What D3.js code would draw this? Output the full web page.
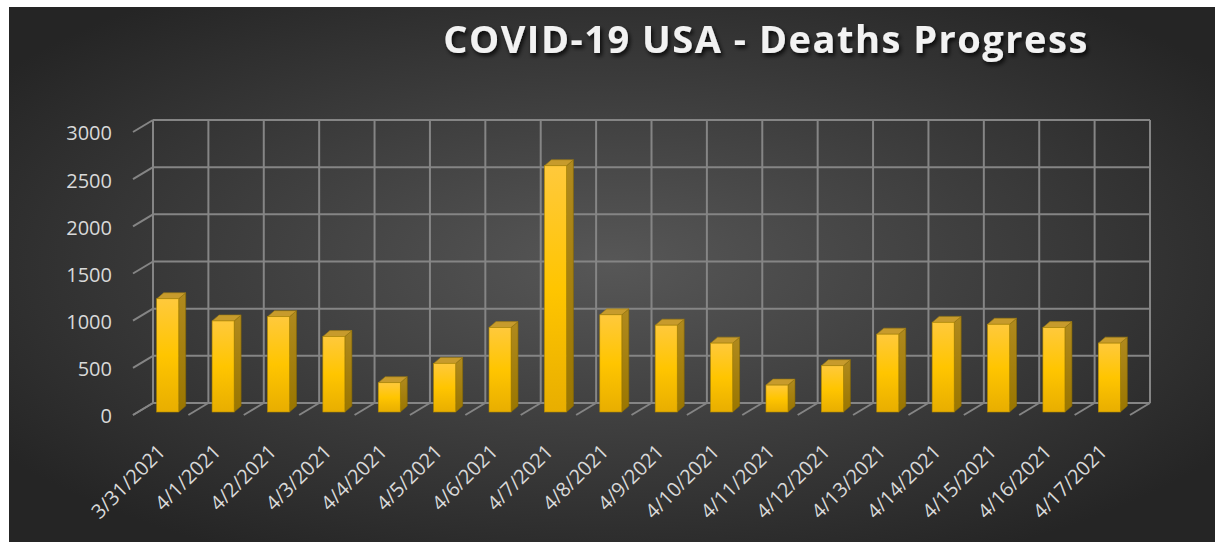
<!DOCTYPE html>
<html>
<head>
<meta charset="utf-8">
<script src="https://cdn.jsdelivr.net/npm/d3@7"></script>
<style>
  body { margin: 0; background: #fff; }
  svg { display: block; }
</style>
</head>
<body>
<div id="chart"></div>
<script>
// chart data
const dates = ["3/31/2021", "4/1/2021", "4/2/2021", "4/3/2021", "4/4/2021", "4/5/2021",
  "4/6/2021", "4/7/2021", "4/8/2021", "4/9/2021", "4/10/2021", "4/11/2021",
  "4/12/2021", "4/13/2021", "4/14/2021", "4/15/2021", "4/16/2021", "4/17/2021"];
const deaths = [1200, 965, 1010, 800, 310, 515, 895, 2610, 1030, 920, 730, 285,
  490, 825, 950, 930, 895, 730];
const yTicks = [0, 500, 1000, 1500, 2000, 2500, 3000];

const W = 1215, H = 542;

// oblique depth offsets (back wall -> front of floor)
const floorDx = -20, floorDy = 12;
const faceDx = -15, faceDy = 9;     // front face of the bars
const sideDx = 7, sideDy = -6;      // bar depth
const barW = 22;

const svg = d3.select("#chart").append("svg")
  .attr("width", W).attr("height", H);

const defs = svg.append("defs");

const bg = defs.append("radialGradient").attr("id", "bg")
  .attr("cx", "50%").attr("cy", "48%").attr("r", "62%");
bg.append("stop").attr("offset", "0%").attr("stop-color", "#575757");
bg.append("stop").attr("offset", "100%").attr("stop-color", "#252525");

const front = defs.append("linearGradient").attr("id", "front")
  .attr("x1", 0).attr("y1", 0).attr("x2", 0).attr("y2", 1);
front.append("stop").attr("offset", "0%").attr("stop-color", "#ffc93c");
front.append("stop").attr("offset", "50%").attr("stop-color", "#ffc500");
front.append("stop").attr("offset", "100%").attr("stop-color", "#e8ae00");

const side = defs.append("linearGradient").attr("id", "side")
  .attr("x1", 0).attr("y1", 0).attr("x2", 0).attr("y2", 1);
side.append("stop").attr("offset", "0%").attr("stop-color", "#b08a1e");
side.append("stop").attr("offset", "100%").attr("stop-color", "#9a7600");

const shadow = defs.append("filter").attr("id", "shadow")
  .attr("x", "-10%").attr("y", "-30%").attr("width", "120%").attr("height", "160%");
shadow.append("feDropShadow").attr("dx", 2).attr("dy", 3)
  .attr("stdDeviation", 2).attr("flood-color", "#000").attr("flood-opacity", 0.8);

svg.append("rect").attr("x", 9).attr("y", 7)
  .attr("width", W - 9).attr("height", H - 7)
  .attr("fill", "url(#bg)");

const x = d3.scaleBand().domain(dates).range([153, 1150]);
const y = d3.scaleLinear().domain([0, 3000]).range([403, 120]);

const grid = svg.append("g")
  .attr("stroke", "#858585").attr("stroke-width", 2).attr("fill", "none");

// back wall horizontals + left stubs
grid.selectAll(".h").data(yTicks).join("line")
  .attr("x1", x.range()[0]).attr("x2", x.range()[1])
  .attr("y1", d => y(d)).attr("y2", d => y(d));
grid.selectAll(".s").data(yTicks).join("line")
  .attr("x1", x.range()[0] + floorDx).attr("y1", d => y(d) + floorDy)
  .attr("x2", x.range()[0]).attr("y2", d => y(d));

// back wall verticals + floor diagonals
const edges = dates.map(d => x(d)).concat([x.range()[1]]);
grid.selectAll(".v").data(edges).join("line")
  .attr("x1", d => d).attr("x2", d => d)
  .attr("y1", y(3000)).attr("y2", y(0));
grid.selectAll(".f").data(edges).join("line")
  .attr("x1", d => d).attr("y1", y(0))
  .attr("x2", d => d + floorDx).attr("y2", y(0) + floorDy);

// y tick labels
svg.append("g").selectAll("text").data(yTicks).join("text")
  .attr("x", 112).attr("y", d => y(d) + 15)
  .attr("text-anchor", "end").attr("dominant-baseline", "middle")
  .attr("fill", "#d9d9d9")
  .style("font-family", "'Open Sans', sans-serif").style("font-size", "20px")
  .text(d => d);

// bars
const bars = svg.append("g").selectAll("g")
  .data(dates.map((d, i) => ({ date: d, value: deaths[i] })))
  .join("g");

const bx = d => x(d.date) + faceDx + (x.bandwidth() - barW) / 2 + 2;
const by0 = y(0) + faceDy;
const by = d => y(d.value) + faceDy;

bars.append("path")
  .attr("fill", "url(#side)").attr("stroke", "#8a6a00").attr("stroke-width", 0.6)
  .attr("d", d => {
    const x1 = bx(d) + barW;
    return `M${x1},${by(d)}L${x1 + sideDx},${by(d) + sideDy}L${x1 + sideDx},${by0 + sideDy}L${x1},${by0}Z`;
  });
bars.append("path")
  .attr("fill", "#c79b2c").attr("stroke", "#9a7a10").attr("stroke-width", 0.6)
  .attr("d", d => {
    const x0 = bx(d), t = by(d);
    return `M${x0},${t}L${x0 + sideDx},${t + sideDy}L${x0 + barW + sideDx},${t + sideDy}L${x0 + barW},${t}Z`;
  });
bars.append("rect")
  .attr("x", bx).attr("y", by)
  .attr("width", barW).attr("height", d => by0 - by(d))
  .attr("fill", "url(#front)").attr("stroke", "#b08a00").attr("stroke-width", 0.6);

// x labels, rotated
svg.append("g").selectAll("text").data(dates).join("text")
  .attr("transform", d => `translate(${x(d) + x.bandwidth() / 2 + floorDx + 6},${y(0) + 50}) rotate(-45)`)
  .attr("text-anchor", "end")
  .attr("fill", "#d9d9d9")
  .style("font-family", "'Open Sans', sans-serif").style("font-size", "20px")
  .text(d => d);

// title
svg.append("text")
  .attr("x", 766).attr("y", 53)
  .attr("text-anchor", "middle")
  .attr("fill", "#f2f2f2")
  .attr("filter", "url(#shadow)")
  .style("font-family", "'Open Sans', sans-serif").style("font-size", "38px")
  .style("font-weight", "bold").style("letter-spacing", "1.5px")
  .text("COVID-19 USA - Deaths Progress");
</script>
</body>
</html>
